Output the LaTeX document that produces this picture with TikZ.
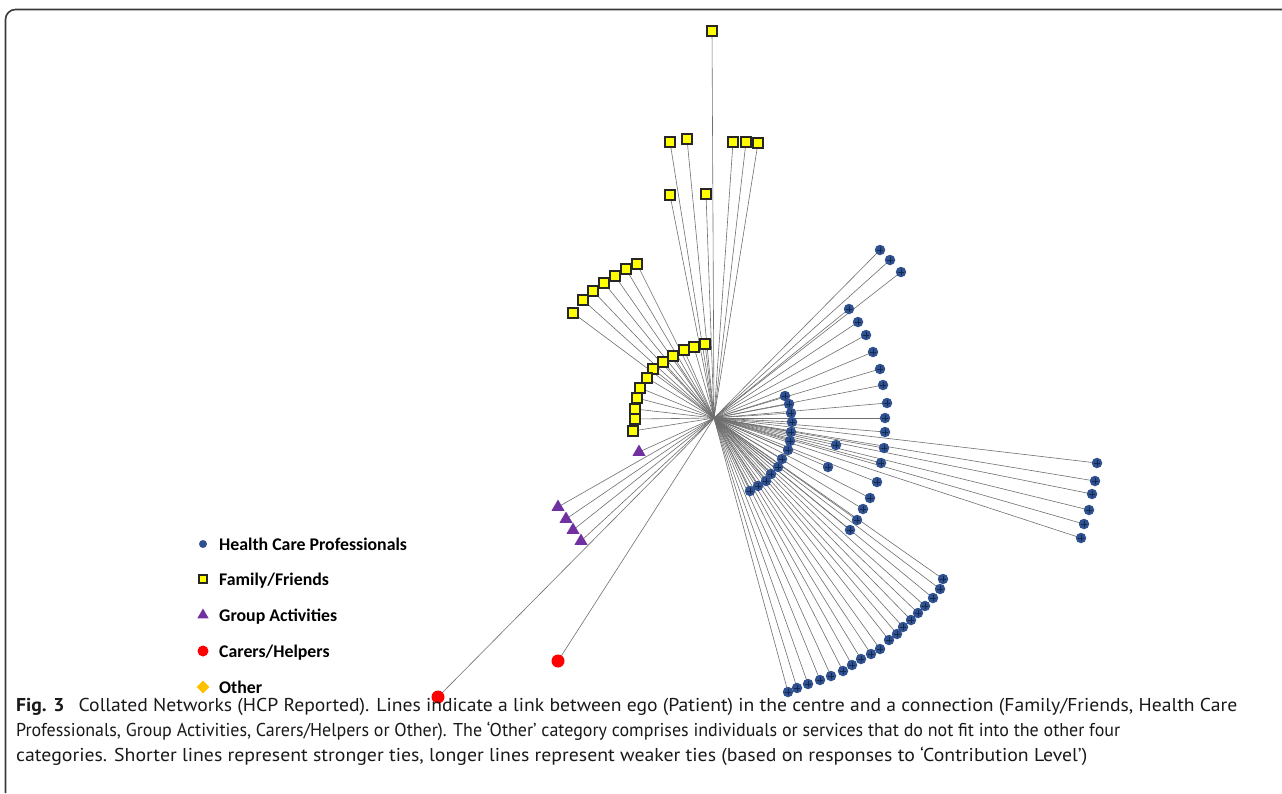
\documentclass[tikz,border=0pt]{standalone}
\usepackage{fontspec}
\usepackage{graphicx}
\setmainfont{PT Sans}
\newfontfamily\legendfont{Carlito}
\usetikzlibrary{shapes.geometric,backgrounds}
\definecolor{hcpblue}{HTML}{2F5190}
\definecolor{hcpdark}{HTML}{15284F}
\definecolor{ffyellow}{HTML}{FFFF00}
\definecolor{gapurple}{HTML}{7030A0}
\definecolor{chred}{HTML}{FF0000}
\definecolor{otgold}{HTML}{FFC000}
\definecolor{edgegray}{HTML}{6E6E6E}
\definecolor{framegray}{HTML}{3A3A3A}
\begin{document}
\begin{tikzpicture}[x=1pt,y=-1pt,
  hcp/.style={circle,fill=hcpblue,inner sep=0pt,minimum size=10.5pt,
    path picture={\draw[hcpdark,line width=1pt] (path picture bounding box.center) ++(-2.6pt,0) -- ++(5.2pt,0) ++(-2.6pt,-2.6pt) -- ++(0,5.2pt);}},
  ff/.style={rectangle,fill=ffyellow,draw=black!85,line width=1.6pt,inner sep=0pt,minimum size=10pt},
  ga/.style={regular polygon,regular polygon sides=3,fill=gapurple,inner sep=0pt,minimum size=15pt},
  ch/.style={circle,fill=chred,inner sep=0pt,minimum size=13pt},
  edge/.style={draw=edgegray,line width=0.6pt},
  legtext/.style={anchor=base west,inner sep=0pt,font=\legendfont\bfseries\fontsize{17.8}{20}\selectfont},
  captext/.style={anchor=base west,inner sep=0pt,font=\fontsize{18.6}{25}\selectfont,text=black!90}
]
\useasboundingbox (0,0) rectangle (1282,793);
% frame
\draw[framegray,line width=1.6pt,rounded corners=10pt] (1282,9.5) -- (5.5,9.5) -- (5.5,793);

% ego
\coordinate (c) at (714,418);

% Family/Friends
\foreach \px/\py [count=\i] in {712/31,670/142,687/139,733/142,746/142,758/143,670/195,706/194,
  573/313,583/300,593/291,604/283,615/276,626/269,637/264,
  705/344,694/347,684/350,673/356,663/362,653/369,647/378,640/388,637/398,635/409,635/419,633/431}
  \node[ff] (f\i) at (\px,\py) {};

% Group activities
\foreach \px/\py [count=\i] in {639/452,558/507,566/519,573/530,581/541}
  \node[ga] (g\i) at (\px,\py) {};

% Carers/Helpers
\node[ch] (r1) at (558,661) {};
\node[ch] (r2) at (438,697) {};

% Health care professionals
\foreach \px/\py [count=\i] in {880/250,890/260,901/272,
  849/309,858/322,866/335,873/352,880/369,883/385,887/403,885/418,885/432,884/448,881/463,877/482,870/498,863/509,857/520,850/530,
  785/396,789/404,791/413,792/422,791/432,790/441,788/450,782/459,778/467,771/474,766/481,758/486,750/491,
  836/445,828/467,
  1097/463,1095/481,1092/494,1089/510,1084/524,1081/538,
  943/579,940/589,933/598,925/606,918/613,911/620,903/627,897/634,889/640,880/649,871/654,861/659,852/665,843/671,831/676,820/680,808/684,797/688,788/692}
  \node[hcp] (h\i) at (\px,\py) {};

% connectors
\begin{scope}[on background layer]
  \foreach \i in {1,...,27} \draw[edge] (c) -- (f\i.center);
  \foreach \i in {1,...,5} \draw[edge] (c) -- (g\i.center);
  \foreach \i in {1,2} \draw[edge] (c) -- (r\i.center);
  \foreach \i in {1,...,59} \draw[edge] (c) -- (h\i.center);
\end{scope}

% legend
\node[circle,fill=hcpblue,inner sep=0pt,minimum size=8pt] (l1) at (203,544) {};
\node[rectangle,fill=ffyellow,draw=black!85,line width=1.4pt,inner sep=0pt,minimum size=8pt] (l2) at (203,579) {};
\node[regular polygon,regular polygon sides=3,fill=gapurple,inner sep=0pt,minimum size=13pt] (l3) at (203,615) {};
\node[circle,fill=chred,inner sep=0pt,minimum size=11pt] (l4) at (203,651) {};
\node[diamond,fill=otgold,inner sep=0pt,minimum size=13pt] (l5) at (203,687) {};
\node[legtext] (t1) at (219,550) {Health Care Professionals};
\node[legtext] (t2) at (219,585) {Family/Friends};
\node[legtext] (t3) at (219,621) {Group Activities};
\node[legtext] (t4) at (219,657) {Carers/Helpers};
\node[legtext] (t5) at (219,693) {Other};

% caption
\node[captext] (cap1) at (16,711) {\resizebox{1221pt}{\height}{\textbf{Fig. 3}\hspace{0.45em} Collated Networks (HCP Reported). Lines indicate a link between ego (Patient) in the centre and a connection (Family/Friends, Health Care}};
\node[captext] (cap2) at (16,736) {\resizebox{1104pt}{\height}{Professionals, Group Activities, Carers/Helpers or Other). The ‘Other’ category comprises individuals or services that do not fit into the other four}};
\node[captext] (cap3) at (16,761) {\resizebox{1071pt}{\height}{categories. Shorter lines represent stronger ties, longer lines represent weaker ties (based on responses to ‘Contribution Level’)}};
\end{tikzpicture}
\end{document}
